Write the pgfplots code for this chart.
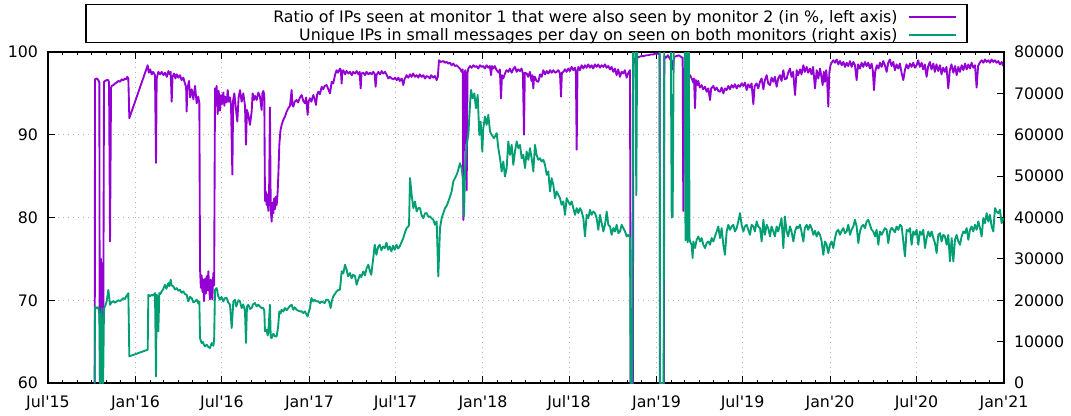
\documentclass[border=0pt]{standalone}
\usepackage{fontspec}
\setmainfont{DejaVu Sans}
\usepackage{pgfplots}
\pgfplotsset{compat=1.18}
\definecolor{gpPurple}{RGB}{148,0,211}
\definecolor{gpGreen}{RGB}{0,158,115}
\newcommand{\q}{\textquotesingle}
\begin{document}
\begin{tikzpicture}[font=\fontsize{11.85pt}{14pt}\selectfont]
\path[use as bounding box] (-36pt,-24pt) rectangle (767.25pt,287.25pt);
\pgfplotsset{
  common/.style={
    width=717pt, height=248.25pt, scale only axis,
    xmin=0, xmax=2011,
    /pgf/number format/assume math mode=true,
    tick align=inside,
    major tick length=5.25pt, minor tick length=2.6pt,
    every tick/.style={black, line width=0.75pt},
    axis line style={line width=0.8pt},
  }
}
\begin{axis}[common,
  ymin=60, ymax=100, ytick={60,70,80,90,100}, ytick pos=left,
  xtick={0,184,366,550,731,915,1096,1280,1461,1645,1827,2011},
  xticklabels={Jul\q15,Jan\q16,Jul\q16,Jan\q17,Jul\q17,Jan\q18,Jul\q18,Jan\q19,Jul\q19,Jan\q20,Jul\q20,Jan\q21},
  minor xtick={31,62,92,123,153,215,244,275,305,336,397,428,458,489,519,581,609,640,670,701,762,793,823,854,884,946,974,1005,1035,1066,1127,1158,1188,1219,1249,1311,1339,1370,1400,1431,1492,1523,1553,1584,1614,1676,1705,1736,1766,1797,1858,1889,1919,1950,1980},
  xtick pos=both,
  grid=major, major grid style={gray!60, line width=0.75pt, dash pattern=on 0.75pt off 3pt},
  xticklabel style={yshift=-6pt},
  yticklabel style={xshift=-4pt},
]
\addplot[gpPurple, line width=1.4pt, line join=round] coordinates {
(98,40) (98.9,96.7) (102.4,96.8) (105.9,96.6) (108,96.3) (109.4,40) (111.5,75.0) (112.5,68) (113.5,74.5) (114.5,67.4) (115.5,73) (116.4,68.5) (117.8,96.4) (120,96.5) (123.4,96.6) (126.9,96.6) (128.4,96.3) (130.5,77.1) (132.6,95.6) (134,95.9) (137.5,96) (141,96.2) (144.5,96.3) (148,96.5) (151.5,96.4) (155,96.7) (158.5,96.6) (162,96.8) (164.1,96.7) (166.9,97) (169,96.8) (171.1,92)
(209.7,98.4) (212,97.5) (215,97.9) (218.1,97.3) (221,97.6) (225.1,97.2) (227.2,86.6) (228.6,96.8) (232.1,97.6) (236,97.3) (239.1,97.6) (243,97.2) (246.2,97.5) (250,97) (253.2,97.7) (256,97.3) (258.1,97.6) (260.2,94) (262,97) (265,97.4) (268,96.8) (270.7,97.3) (274,96.9) (277.7,97.2) (281,96.6) (284.7,96.9) (288,96.2) (290.5,95.8) (291.7,92.8) (293,95.5) (296.6,96.5) (299,94.5) (302.3,95.5) (305.8,94.3) (309.3,95.9) (312.8,93.8) (316,94.6) (318.4,93.8)
(319.8,73.9) (321.5,71.5) (323.3,73) (325,71) (326.5,72.5) (328.2,69.9) (330.3,72.6) (332,70.8) (333.8,72.9) (335.5,71.2) (337.3,73.5) (339,71.5) (340.8,70.1) (342.5,72.5) (344.3,70.9) (345.7,70.1) (347.8,73.3) (349.5,71.8)
(351.3,95.6) (353,93.5) (354.8,95.9) (357,92.5) (359,95.3) (361.8,92.9) (364,94.8) (366,93.7) (368.9,95.1) (371,93.5) (373,94.6) (375.9,93.9) (378,95.4) (380.5,94) (382.9,94.5) (385,93.6) (387.8,85.2) (389.5,94.2)
(392,95) (395,93.3) (398.2,91.6) (401,94.5) (403.9,95.4) (407.3,94) (410.8,95) (414.4,93.5) (416.5,88.8) (418.5,93) (421.4,92.4) (424.9,91.2) (428.4,92.8) (430.5,95) (433,94.2) (435.4,94.7) (438.9,94.2) (442.4,95.1) (445.9,94.6) (449.4,93) (451,95) (452.9,95.3) (455,94.8)
(456.4,82) (458,83.2) (459.9,81.5) (462,82.8) (463.4,80.8) (465,82.5) (466.9,93.3) (468.5,81) (470.5,79.5) (472,81.8) (474,80.5) (475.5,82.3) (477.5,81) (479,82.5) (481,81.5) (483,83) (484.5,85) (486.6,88.8) (489,90.5) (491.5,91.2) (495,91.8) (498.5,92.2) (502,92.8) (505.5,93.2) (509,93.5) (512.5,95.4) (514,93.6) (516,93.4) (519,94) (523,94.2) (526,93.9) (530,94.5) (533.6,94.8) (537,94.1) (540.6,93.8) (543,94.5) (546.2,92.4) (548,94) (551.1,94.4) (554,94) (558.1,94.8) (561,94.3) (563.7,93.6) (566,94.8) (568.6,95.2) (572,94.9) (575.6,95.8) (579,95.5) (582,95.9) (586.1,96) (589,95.6) (593.2,95) (596.7,96.4) (600,96.2) (603.7,97.2) (607.2,97.8) (610,97.5) (614.2,98) (616,97.8) (617.7,96.2) (619,97.6) (621.2,97.8) (625,97.3) (628,97.7) (632,97.4) (635.2,97.6) (639,97.2) (642,97.6) (646,97.4) (649.3,97.7) (653,97.3) (655.5,97.6) (657.7,95.6) (659.5,97.4) (663.3,97.5) (667,97.2) (670,97.6) (674,97.3) (677.3,97.5) (681,97.3) (684,97.6) (687,97.4) (689.2,95.8) (691,97.2) (695,97.6) (698.3,97.3) (702,97.7) (705,97.4) (709,97.6) (712,97.3) (715.9,96.8) (719.4,97) (723,96.8) (727,96.7) (730,96.9) (733.4,96.6) (737,96.9) (740,96.5) (744,96.8) (747.4,96) (750,96.7) (754.4,97.2) (758,96.9) (761.5,97.3) (765,97) (768,97.4) (772,97) (775.5,97.2) (779,96.9) (782,97.3) (786,97) (789.5,97.2) (793,96.8) (796.5,97.1) (800,97) (803.5,96.8)
(806,97.2) (810.5,96.9) (814,97.1) (817.6,96.6) (820,97.0) (822.5,99.0) (826,98.8) (831.6,98.9) (835,98.7) (838.6,98.8) (842,98.6) (845.6,98.7) (849,98.4) (852.6,98.6) (856,98.3) (859.6,98.4) (863,98.2) (866.6,98.0) (870.2,97.6) (872.5,97.9) (873.7,79.7) (875.8,97.4) (878,97.8) (880.7,83.3) (882.5,97.5) (884.2,98.0) (887.7,98.3) (891,98.1) (894.7,98.4) (898,98.2) (901.7,98.3) (905,98.0) (908.7,98.4) (912,98.2) (915.7,98.3) (919,98.0) (922.7,98.4) (926,98.1) (929.5,98.3) (931.9,97.2) (934,98.3) (936.8,98.0) (940,98.3) (943.8,97.8) (948,97.5) (950.5,97.9) (952.9,94.4) (955,97.2) (957.8,96.8) (961.3,97.4) (964.5,97.8) (968.3,97.6) (971.5,98.0) (975.3,97.5) (978.5,97.9) (982.3,98.2) (985.9,97.6) (989,97.9) (992.9,97.7) (996,98.0) (999,97.4) (1001.3,90.0) (1003,97.5) (1006.9,97.4) (1010,97.0) (1013.9,97.6) (1017,96.5) (1019,97.2) (1020.9,95.6) (1022.5,97.0) (1024.4,97.0) (1027.5,96.5) (1031.4,96.4) (1035,97.3) (1038.5,97.0) (1041.9,97.8) (1045.5,97.3) (1049,97.7) (1052.5,97.4) (1056,97.8) (1059.5,97.5) (1063.0,97.8) (1066.5,97.5) (1070,97.6) (1073.5,97.8) (1077,97.4) (1079.1,94.6) (1081,97.5) (1084,97.6) (1087.5,97.9) (1091,97.6) (1094.5,98.0) (1098,97.7) (1101.5,98.2) (1105,97.8) (1108.5,98.1) (1110.5,97.5) (1112.1,88.2) (1113.8,97.6) (1115.6,98.2) (1119,97.8) (1122.5,98.4) (1126.1,98.0) (1129.5,98.4) (1133,98.1) (1136.5,98.5) (1140.1,98.1) (1143.5,98.4) (1147,98.0) (1150.5,98.5) (1154.1,98.2) (1157.5,98.5) (1161,98.1) (1164.5,98.4) (1168.2,98.2) (1171.5,98.5) (1175,98.1) (1178.5,98.3) (1182.2,97.9) (1185.5,98.2) (1189,97.6) (1192.5,98.0) (1196.2,97.2) (1199.5,97.9) (1203.2,97.0)
(1206.5,97.6) (1210.2,97.4) (1213.5,97.8) (1217.3,96.9) (1220.8,97.5) (1224.3,97.8) (1226.4,40) (1230,40) (1231.2,98.4) (1234,99.2) (1238,99.3) (1243,99.4) (1248,99.5) (1253,99.5) (1258,99.6) (1263,99.6) (1268,99.7) (1273,99.7) (1278,99.8) (1283,99.8) (1286.5,99.7) (1287.5,40) (1295,40) (1296.5,99.5) (1300,99.3) (1304,99.6) (1308,99.2) (1312,98.9) (1314,97.9) (1317,99.4) (1322,99.5) (1327,99.6) (1332,99.4) (1335,99.3) (1336.4,80.8) (1338.5,98.0)
(1342.1,97.6) (1345,97.2) (1347,96.9) (1350.5,97.2) (1354,96.8) (1357.5,96.3) (1359,96.8) (1361,93.2) (1363,96.6) (1366,96.0) (1368,96.5) (1371,95.7) (1375,96.0) (1378,95.5) (1382,95.8) (1385.5,95.2) (1389,95.6) (1392.6,94.2) (1395,95.6) (1399.6,95.9) (1403,95.4) (1406.6,95.7) (1410,95.3) (1413.6,95.2) (1417,95.7) (1420.6,95.0) (1424,95.6) (1427.6,95.4) (1431,95.9) (1434.6,95.5) (1438,96.0) (1441.6,95.7) (1445,96.1) (1448.7,95.6) (1452,96.0) (1455.7,95.8) (1459,96.2) (1462.7,95.9) (1466,96.3) (1469.7,95.4) (1473,96.1) (1476.7,95.7) (1480,96.2) (1483.7,93.7) (1486.5,95.9) (1490.7,96.2) (1494,95.6) (1497.7,96.4) (1501.2,96.8) (1504.8,95.5) (1508,96.6) (1511.8,97.2) (1515,96.2) (1518.8,96.0) (1522,96.9) (1525.8,96.4) (1529,97.0) (1532.8,95.8) (1536,96.8) (1539.8,97.2) (1543,96.5) (1546.8,97.8) (1550,96.7) (1553.8,96.8) (1557,97.5) (1560.8,98.0) (1564,97.0) (1567.5,97.6) (1571.4,94.8) (1574.9,97.8) (1578,97.2) (1581.9,97.9) (1585,97.3) (1588.9,98.4) (1592,97.6) (1595.9,98.2) (1599,97.5) (1602.9,98.0)
(1606,97.3) (1609.5,98.2) (1613.4,95.6) (1617,97.8) (1620.4,96.8) (1624,98.0) (1627,97.0) (1629.5,96.0) (1632,97.6) (1634.4,96.4) (1637,97.8) (1639,96.5) (1641.4,93.4) (1643.5,97.5) (1646,98.4) (1648.4,98.7) (1652,99.0) (1655.4,98.7) (1659,99.1) (1662.5,98.5) (1666,98.9) (1669.5,98.4) (1673,98.8) (1676.5,98.2) (1680,98.7) (1683.5,98.3) (1687,98.9) (1690.5,98.2) (1694,98.8) (1697.5,98.4) (1701,96.6) (1704,98.5) (1708,98.0) (1711.5,98.7) (1715,98.2) (1718.5,98.8) (1722,98.3) (1725.5,98.7) (1729,98.0) (1732.5,98.6) (1735,97.8) (1737.5,95.4) (1740,97.6) (1743.5,98.4) (1747,98.0) (1750,98.7) (1753.5,98.2) (1757,98.9) (1760.5,98.4) (1764.1,97.6) (1767.5,98.7) (1771,99.1) (1774.5,98.3) (1778.1,98.8) (1781.5,97.8) (1785,98.5) (1788.7,98.0) (1792,98.6) (1795.5,97.5) (1799.2,96.6) (1802.5,97.8) (1806,98.5) (1809.5,98.0) (1813.2,98.6) (1816.5,98.2) (1820,98.7) (1823.5,98.1) (1827.2,98.4) (1830.5,99.0) (1834,98.2) (1837.7,98.7) (1841,97.9) (1844.5,98.5) (1848.2,97.0) (1851.5,98.3) (1855,98.8) (1858.5,97.9) (1862.3,98.6) (1865.5,97.6) (1869,98.5) (1872.5,97.7) (1876.3,98.4) (1879.5,97.3) (1883,98.1) (1886.5,97.6) (1890,98.2) (1893.8,95.6) (1897,97.8) (1900.5,98.5) (1904.4,97.5) (1908,98.3) (1911.5,97.2) (1915,98.2) (1918.4,97.6) (1922,98.4) (1925.5,97.8) (1929,98.6) (1932.4,97.9) (1936,98.5) (1939.5,98.0) (1942.9,98.7) (1946.5,98.1) (1950,98.4) (1953.4,95.7) (1956.5,98.3) (1960,98.7) (1964,99.0) (1967.5,98.7) (1971,99.1) (1974.5,98.8) (1978,99.0) (1981.5,98.7) (1985,99.1) (1988.5,98.8) (1992,99.0) (1995.5,98.7) (1999,98.9) (2002.5,98.5) (2006,98.8) (2009.5,98.3)
};
\end{axis}
\begin{axis}[common,
  ymin=0, ymax=80000, ytick={0,10000,20000,30000,40000,50000,60000,70000,80000},
  ytick pos=right, yticklabel pos=right,
  hide x axis,
  scaled y ticks=false,
  yticklabel style={/pgf/number format/fixed, /pgf/number format/1000 sep={}, xshift=4pt},
  legend plot pos=right, legend cell align=right,
  legend image code/.code={\draw[#1] (0pt,0pt) -- (35pt,0pt);},
  legend style={draw=none, fill=none, at={(axis description cs:0.9613,1.1435)}, anchor=north east,
    inner xsep=7.5pt, inner ysep=2pt, row sep=-1pt, column sep=6pt},
]
\addlegendimage{gpPurple, line width=1.4pt}
\addlegendentry{Ratio of IPs seen at monitor 1 that were also seen by monitor 2 (in \%, left axis)}
\addplot[gpGreen, line width=1.4pt, line join=round] coordinates {
(98,0) (98.9,18500) (102.4,18100) (105.9,18300) (108,16500) (109.4,0) (111,0) (112.5,18000) (114,0) (116,0) (117.8,18100) (120,18500) (123.4,19700) (126.9,22500) (129,20500) (130.5,18900) (132.6,19300) (134,19500) (137.5,19800) (141,19400) (144.5,19700) (148,20000) (151.5,19800) (155,20100) (158.5,20500) (162,20300) (164.1,20900) (166.9,21300) (169,21700) (171.1,6440)
(209.7,8050) (211.1,21300) (215,21000) (218.1,21330) (221,21100) (225.1,21740) (227.2,1610) (228.6,21330) (230,21000) (232.1,12480) (234.2,21740) (236.5,21500) (239.1,22140) (242,22600) (246.2,23750) (249,22800) (253.2,24150) (255.5,23400) (258.1,24960) (260,23600) (263.7,23350) (267,22600) (270.7,22940) (274,22300) (277.7,22540) (281,21800) (284.7,22140) (288,21500) (291.7,21330) (293.5,20400) (295.2,19720) (298.5,20800) (302.3,20530) (305.8,19500) (309.3,19720) (312.8,20130) (316,19300) (318.4,19700)
(319.8,10870) (321.5,10200) (323.3,9660) (326,9900) (328.2,9200) (330.3,8860) (333.8,9260) (337.3,8700) (340.8,8450) (344.3,9660) (347.8,9000) (349.5,10500)
(351.3,22540) (354.8,22940) (358,21000) (361.8,20130) (365,20800) (368.9,19720) (372,20500) (375.9,20530) (379,19500) (382.9,18920) (386.4,13280) (389.9,19720) (393.3,20130) (396,18500) (398.2,19320) (401,20000) (403.9,19720) (407.3,18110) (410.8,19000) (414.4,17310) (416.5,9660) (418.5,18500) (421.4,18920) (424.9,17900) (428.4,18110) (431,19000) (435.4,19320) (438.9,18500) (442.4,18920) (445.9,18500) (449.4,18110) (452.9,18110) (455,17500)
(456.4,12480) (459.9,12880) (462,11500) (463.4,12100) (466.9,18920) (468.5,11000) (470.5,10870) (474,11900) (477.5,11270) (481,11270) (484,13500) (486.6,17310) (489,16800) (491.5,17710) (495,17300) (498.5,18110) (502,17600) (505.5,18110) (509,18600) (512.5,18920) (516,17710) (519,18300) (523,17710) (526,17500) (530,17310) (533.6,17310) (537,16900) (540.6,17310) (543,16700) (546.2,16100) (548,17000) (551.1,18110) (554,20530)
(558.1,19720) (561,20100) (565,19720) (568.6,19720) (572,19300) (575.6,19720) (579,19500) (582,19320) (585,20100) (589,20130) (592,19400) (594.5,18110) (597,19800) (600,20930) (604,21600) (607.2,22140) (611,22500) (614.2,22540) (617.7,27000) (621.2,26500) (624.7,28580) (628,27500) (631,25800) (635.2,26570) (638.7,25300) (642,26200) (645.8,25800) (649.3,23750) (652,24800) (656.3,26160) (659,25600) (663.3,26970) (666.8,26000) (670.3,27770) (673.8,28580) (677.3,27000) (680,26160) (684,30000) (687.3,33410) (690.8,31000) (694.3,32800) (697.8,33410) (701.3,32100) (704.8,33000) (708.4,32600) (711.9,33900) (715.4,32200) (718.9,33010) (722.4,31800) (725.9,33200) (729.4,32200) (733,33400) (736.4,32500) (739.9,33000) (743.4,34000) (747.4,35020) (750.9,36400) (754.4,37430) (757.9,37800) (759.5,38240) (761.5,49510) (765,45480) (768.5,42260) (772,43870) (775.5,41460) (779,42300) (782.5,42260) (786,40500) (789.5,39850) (793,41000) (796.5,41060) (800,40200) (803.5,40250) (807,39800) (810.5,39450) (814,38240) (817.6,39040) (821,25760) (824.6,37430) (828.1,39850) (831.5,41000) (835.1,42260) (838.5,42800) (842.1,43870) (845.5,45000) (849.1,46290) (852.6,48700) (856,49500) (859.6,50310) (863,51500) (866.6,53130) (870.2,51920) (872.3,49510) (875.1,40250) (877.2,51120) (880.7,57560) (884.2,59970) (887.7,67220) (889.8,70840) (893.3,68830) (896.8,70000) (900.3,66410) (903.8,69630) (907.3,59970) (910.1,63190) (913.6,55950) (915.7,61580) (919.2,64400) (922.7,62390) (926.2,64800) (929.8,60780) (933.3,59970) (938.2,59170) (943.8,60380) (947.3,56750) (950.8,54340) (954.3,51120) (957.8,53530) (961.3,49910) (964.8,51920) (968.3,58360) (971.8,55140) (975.3,57560) (978.8,52730) (982.3,55950) (985.9,58360) (989.4,56750) (992.9,57560) (996.4,54340) (999.9,55140) (1003.4,51920) (1006.9,55950) (1010.4,53940) (1013.9,56750) (1017.4,54340) (1020.9,51120) (1024.4,57560) (1027.9,55140) (1031.4,53940) (1034.9,54340) (1038.4,53530) (1041.9,53940) (1045.5,52730) (1049,50310) (1052.5,51120) (1056,46290) (1059.5,49510) (1063,47900) (1066.5,44680) (1070,46290) (1073.5,45480) (1077,44680) (1080.5,43070) (1084,43870) (1087.5,40650) (1091,44680) (1094.5,43870) (1098,43070) (1101.5,43870) (1105,42260) (1108.6,40650) (1112.1,42260) (1115.6,41060) (1119.1,42260) (1122.6,41460) (1126.1,39850) (1129.6,35420) (1133.1,40650) (1136.6,39850) (1140.1,41860) (1143.6,40650) (1147.1,41460) (1150.6,41060) (1154.1,39850) (1157.6,37030) (1161.1,40650) (1164.7,38640) (1168.2,36630) (1171.7,38240) (1175.2,41460) (1178.7,38240) (1182.2,37840) (1185.7,35820) (1189.2,37430) (1192.7,36630) (1196.2,38240) (1199.7,36230) (1203.2,36630) (1206.7,38240) (1210.2,37430) (1213.8,36630) (1217.3,35420) (1220.8,35820) (1224.3,35020)
(1225.6,0) (1229,0) (1231.2,95000) (1235,95000) (1237.5,45400) (1240,95000) (1286.5,95000) (1287.5,0) (1295,0) (1296.5,95000) (1309.5,95000) (1312,40000) (1314,40300) (1317,95000) (1339,95000) (1341,34500) (1343,95000) (1345.5,34000) (1347.5,95000) (1349.5,35000)
(1350.5,34210) (1354,33410) (1356,30190) (1357.5,34210) (1361,32600) (1364.5,34620) (1368,35420) (1371.5,34210) (1375,35020) (1378.5,33410) (1382,32600) (1385.6,33810) (1389,34210) (1392.6,33410) (1396,35020) (1399.6,34210) (1403,35420) (1406.6,36630) (1410,37840) (1413.6,35020) (1417,37430) (1420.6,33410) (1424,30990) (1427.6,36630) (1431,38240) (1434.6,37030) (1438,37840) (1441.6,38240) (1445,36630) (1448.7,37430) (1452,39040) (1455.7,41060) (1459,38240) (1462.7,36630) (1466,37840) (1469.7,38240) (1473,37030) (1476.7,35820) (1480,38240) (1483.7,37840) (1487,36630) (1490.7,39040) (1494,37840) (1497.7,37430) (1501.2,34210) (1504.8,39450) (1508,35820) (1511.8,38240) (1515,37430) (1518.8,35420) (1522,37840) (1525.8,36630) (1529,35420) (1532.8,37840) (1536,36630) (1539.8,38240) (1543,39850) (1546.8,32600) (1550,40250) (1553.8,36630) (1557,35420) (1560.8,37840) (1564,36630) (1567.9,34210) (1571.4,36630) (1574.9,37840) (1578,37430) (1581.9,38240) (1585,36630) (1588.9,34210) (1592,37430) (1595.9,38240) (1599,37030) (1602.9,38240)
(1606.3,37400) (1609.9,35820) (1613.4,36800) (1616.9,35420) (1620.4,36500) (1623.9,35820) (1627.4,34210) (1630.9,30990) (1634.4,34210) (1637.9,33410) (1641.4,31400) (1644.9,33410) (1648.4,34210) (1651.9,32600) (1655.4,35020) (1658.9,36630) (1662.4,37030) (1666,35820) (1669.5,36800) (1673,37430) (1676.5,36200) (1680,36630) (1683.5,38240) (1687,35820) (1690.5,37030) (1694,37840) (1697.5,39450) (1701,37840) (1704.5,33810) (1708,36630) (1711.5,37840) (1715,38240) (1718.5,37400) (1722,39040) (1725.5,39450) (1729,38240) (1732.6,37030) (1736,36630) (1739.6,35420) (1743,37030) (1746.6,33410) (1750,36630) (1753.6,35820) (1757.1,36630) (1760.6,37430) (1764.1,37030) (1767.6,33810) (1771.1,36630) (1774.6,37500) (1778.1,37030) (1781.6,36400) (1785.1,37840) (1788.6,37000) (1792.2,38240) (1795.7,37840) (1799.2,34210) (1802.7,30590) (1806.2,37030) (1809.7,36630) (1813.2,37430) (1816.7,33410) (1820.2,36630) (1823.7,35820) (1827.2,37030) (1830.7,33410) (1834.2,36630) (1837.7,35820) (1841.2,37030) (1844.8,32600) (1848.2,35020) (1851.8,36630) (1855.3,35420) (1858.8,36630) (1862.3,35020) (1865.8,33810) (1869.3,31400) (1872.8,35820) (1876.3,36230) (1879.8,34210) (1883.3,35820) (1886.8,35420) (1890.3,33410) (1893.8,35820) (1897.3,29380) (1900.9,35020) (1904.4,29380) (1907.9,34620) (1911.4,35820) (1914.9,34210) (1918.4,33410) (1921.9,35420) (1925.4,36630) (1928.9,36230) (1932.4,37430) (1935.9,34620) (1939.4,37030) (1942.9,37840) (1946.4,36630) (1949.9,38240) (1953.4,37030) (1957,39040) (1960.5,37430) (1964,35420) (1967.5,39850) (1971,38640) (1974.5,41060) (1978,39040) (1981.5,40650) (1985,37840) (1988.5,36630) (1992,42260) (1995.5,41460) (1999,41060) (2002.5,41860) (2006,38640) (2009.5,39850)
};
\addlegendentry{Unique IPs in small messages per day on seen on both monitors (right axis)}
\end{axis}
\draw[line width=0.8pt] (28.5pt,255.45pt) rectangle (689.25pt,283.9pt);
\end{tikzpicture}
\end{document}
